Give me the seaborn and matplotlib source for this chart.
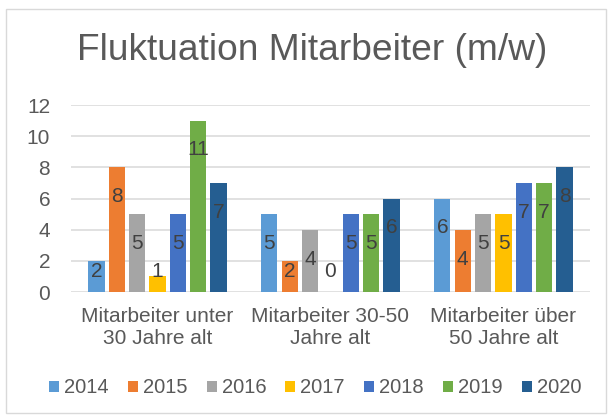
import pandas as pd
import matplotlib.pyplot as plt
import seaborn as sns
from matplotlib.patches import Rectangle

# Daten
gruppen = ["Mitarbeiter unter\n30 Jahre alt", "Mitarbeiter 30-50\nJahre alt", "Mitarbeiter über\n50 Jahre alt"]
jahre = ["2014", "2015", "2016", "2017", "2018", "2019", "2020"]
w2014 = [2, 5, 6]
w2015 = [8, 2, 4]
w2016 = [5, 4, 5]
w2017 = [1, 0, 5]
w2018 = [5, 5, 7]
w2019 = [11, 5, 7]
w2020 = [7, 6, 8]
farben = ["#5B9BD5", "#ED7D31", "#A5A5A5", "#FFC000", "#4472C4", "#70AD47", "#255E91"]

werte = [w2014, w2015, w2016, w2017, w2018, w2019, w2020]
rows = []
for jahr, vals in zip(jahre, werte):
    for g, v in zip(gruppen, vals):
        rows.append({"gruppe": g, "jahr": jahr, "wert": v})
df = pd.DataFrame(rows)

sns.set_theme(style="white")
plt.rcParams["font.family"] = ["Liberation Sans", "DejaVu Sans"]

fig = plt.figure(figsize=(6.12, 4.19), dpi=100)
ax = fig.add_axes([0.116, 0.303, 0.848, 0.446])

sns.barplot(data=df, x="gruppe", y="wert", hue="jahr", palette=farben, saturation=1,
            width=0.823, gap=0.21, linewidth=0, ax=ax, legend=True)

ax.set_ylim(0, 12)
ax.set_xlim(-0.5, 2.5)
ax.set_yticks(range(0, 13, 2))
ax.yaxis.grid(True, color="#D9D9D9", lw=1.1)
ax.set_axisbelow(True)
for s in ax.spines.values():
    s.set_visible(False)
ax.tick_params(axis="both", length=0, labelsize=15, colors="#595959")
ax.tick_params(axis="x", pad=11)
ax.tick_params(axis="y", pad=15)
ax.set_xlabel("")
ax.set_ylabel("")

# Datenbeschriftungen
for cont in ax.containers:
    for bar in cont:
        v = bar.get_height()
        y = max(v - 1.75, 1.45)
        ax.text(bar.get_x() + bar.get_width() / 2, y, f"{v:g}",
                ha="center", va="center_baseline", fontsize=15, color="#404040")

handles, labels = ax.get_legend_handles_labels()
ax.get_legend().remove()
fig.legend(handles, labels, loc="center", bbox_to_anchor=(0.515, 0.074), ncol=7,
           frameon=False, fontsize=14.5, handlelength=0.5, handleheight=0.5,
           handletextpad=0.25, columnspacing=0.95, labelcolor="#595959")

fig.text(0.51, 1 - 50 / 419, "Fluktuation Mitarbeiter (m/w)", ha="center", va="center",
         fontsize=26.7, color="#595959")

fig.patches.append(Rectangle((6 / 612, 6 / 419), 600 / 612, 404 / 419, transform=fig.transFigure,
                             fill=False, edgecolor="#D9D9D9", lw=1))

fig.savefig("out.png", dpi=100)
